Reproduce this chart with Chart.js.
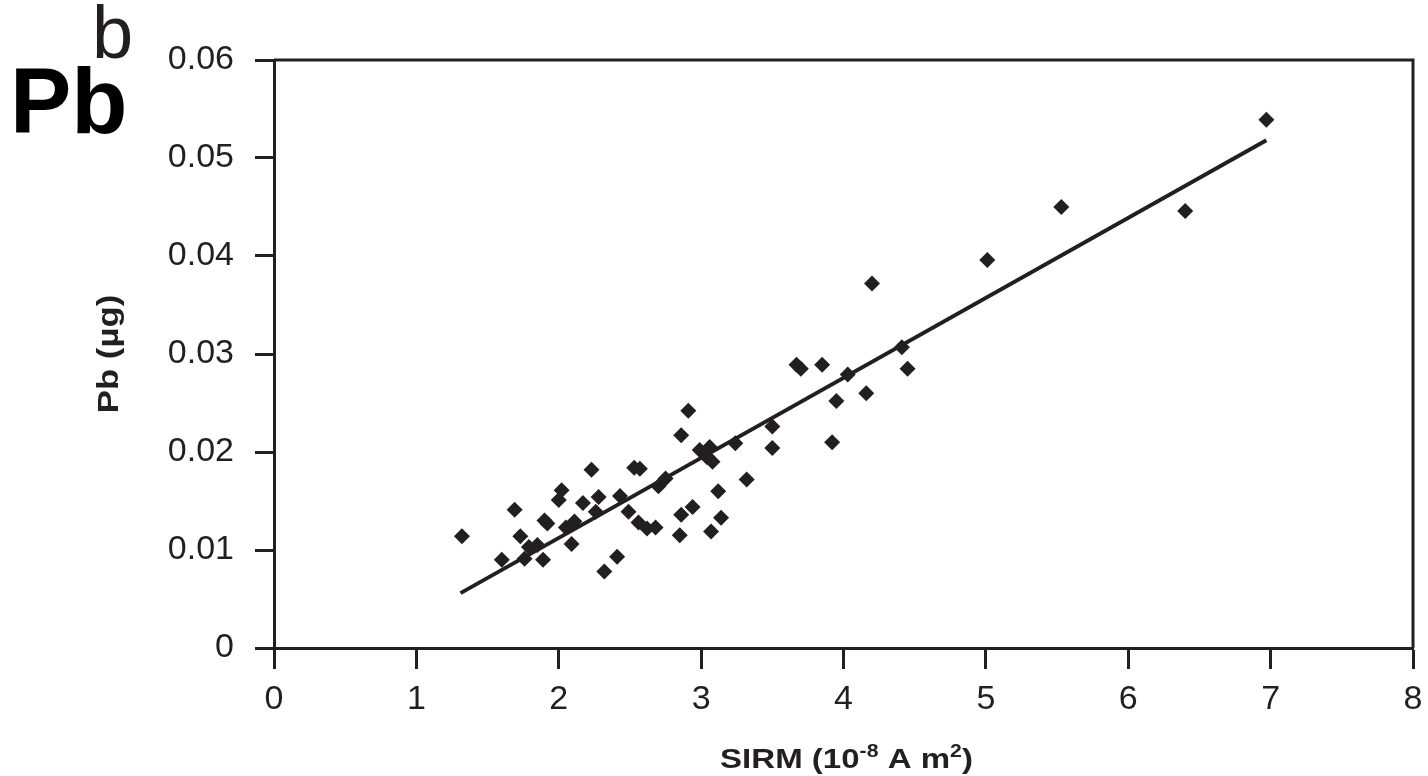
<!DOCTYPE html>
<html>
<head>
<meta charset="utf-8">
<title>Pb vs SIRM</title>
<script src="https://cdn.jsdelivr.net/npm/chart.js@4.4.1/dist/chart.umd.min.js"></script>
<style>
  html, body { margin: 0; padding: 0; background: #fff; }
  #wrap { position: relative; width: 1428px; height: 776px; overflow: hidden; }
  #chart { position: absolute; left: 0; top: 0; }
  .tag { position: absolute; font-family: "Liberation Sans", Arial, sans-serif; color: #000; line-height: 1; }
  #tagPb { left: 10px; top: 55px; font-size: 92px; font-weight: bold; }
  #tagB { left: 92px; top: -4px; font-size: 74px; color: #231f20; }
</style>
</head>
<body>
<div id="wrap">
  <canvas id="chart" width="1428" height="776"></canvas>
  <div class="tag" id="tagPb">Pb</div>
  <div class="tag" id="tagB">b</div>
</div>
<script>
'use strict';

// SIRM (10^-8 A m^2) and Pb (µg)
const sirm = [
    1.32, 1.60, 1.69, 1.73, 1.76, 1.79, 1.85, 1.90, 1.89, 1.92,
    2.02, 2.00, 2.05, 2.09, 2.11, 2.17, 2.23, 2.28, 2.26, 2.32,
    2.41, 2.43, 2.49, 2.53, 2.57, 2.56, 2.62, 2.68, 2.70, 2.75,
    2.85, 2.86, 2.86, 2.91, 2.94, 2.99, 3.04, 3.08, 3.06, 3.07,
    3.12, 3.14, 3.24, 3.32, 3.50, 3.50, 3.67, 3.70, 3.85, 4.03,
    3.95, 3.92, 4.16, 4.20, 4.41, 4.45, 5.01, 5.53, 6.40, 6.97,
];
const pb = [
    0.0114, 0.0090, 0.0141, 0.0114, 0.0091, 0.0103, 0.0105, 0.0130, 0.0090, 0.0127,
    0.0161, 0.0151, 0.0123, 0.0106, 0.0129, 0.0148, 0.0182, 0.0154, 0.0139, 0.0078,
    0.0093, 0.0155, 0.0139, 0.0184, 0.0183, 0.0128, 0.0122, 0.0123, 0.0165, 0.0173,
    0.0115, 0.0136, 0.0217, 0.0242, 0.0144, 0.0202, 0.0195, 0.0190, 0.0205, 0.0119,
    0.0160, 0.0133, 0.0209, 0.0172, 0.0226, 0.0204, 0.0289, 0.0285, 0.0289, 0.0279,
    0.0252, 0.0210, 0.0260, 0.0372, 0.0307, 0.0285, 0.0396, 0.0450, 0.0446, 0.0539,
];

// regression line end points
const fitX = [1.31, 6.97];
const fitY = [0.0056, 0.0518];

const xTicks = [0, 1, 2, 3, 4, 5, 6, 7, 8];
const yTickLabels = ['0', '0.01', '0.02', '0.03', '0.04', '0.05', '0.06'];

// axis titles as text runs (sup = superscript)
const xTitle = [
    { t: 'SIRM (10', sup: false },
    { t: '-8', sup: true },
    { t: ' A m', sup: false },
    { t: '2', sup: true },
    { t: ')', sup: false },
];
const yTitle = [{ t: 'Pb (\u00B5g)', sup: false }];

const INK  = '#231f20';
const FONT = '"Liberation Sans", Arial, sans-serif';

function drawRuns(ctx, runs, size, stretch) {
    const main = `bold ${size}px ${FONT}`;
    const sup  = `bold ${Math.round(size * 0.66)}px ${FONT}`;
    let w = 0;
    runs.forEach(r => { ctx.font = r.sup ? sup : main; r.w = ctx.measureText(r.t).width; w += r.w; });
    ctx.scale(stretch, 1);
    let x = -w / 2;
    runs.forEach(r => {
        ctx.font = r.sup ? sup : main;
        ctx.fillText(r.t, x, r.sup ? -size * 0.38 : 0);
        x += r.w;
    });
}

// frame top/right sides + axis titles
const decorPlugin = {
    id: 'decor',
    afterDraw(chart) {
        const { ctx, chartArea: a } = chart;
        ctx.save();
        ctx.strokeStyle = INK;
        ctx.lineWidth = 3;
        ctx.beginPath();
        ctx.moveTo(a.left, a.top);
        ctx.lineTo(a.right, a.top);
        ctx.lineTo(a.right, a.bottom);
        ctx.stroke();

        ctx.fillStyle = INK;
        ctx.textAlign = 'left';
        ctx.textBaseline = 'alphabetic';

        ctx.save();
        ctx.translate((a.left + a.right) / 2 + 3, 768);
        drawRuns(ctx, xTitle, 28, 1.18);
        ctx.restore();

        ctx.save();
        ctx.translate(118, (a.top + a.bottom) / 2);
        ctx.rotate(-Math.PI / 2);
        drawRuns(ctx, yTitle, 29, 1.2);
        ctx.restore();

        ctx.restore();
    },
};

new Chart(document.getElementById('chart').getContext('2d'), {
    type: 'scatter',
    data: {
        datasets: [
            {
                type: 'line',
                data: fitX.map((x, i) => ({ x, y: fitY[i] })),
                borderColor: INK,
                borderWidth: 4,
                pointRadius: 0,
                fill: false,
            },
            {
                data: sirm.map((x, i) => ({ x, y: pb[i] })),
                pointStyle: 'rectRot',
                pointRadius: 8,
                pointBorderWidth: 0,
                backgroundColor: INK,
                borderColor: INK,
            },
        ],
    },
    options: {
        responsive: false,
        animation: false,
        layout: { padding: { left: 0, top: 60, right: 15, bottom: 0 } },
        plugins: {
            legend:  { display: false },
            tooltip: { enabled: false },
        },
        scales: {
            x: {
                type: 'linear',
                min: 0,
                max: 8,
                afterFit: s => { s.height = 128; s.paddingRight = 0; s.paddingLeft = 0; },
                afterBuildTicks: s => { s.ticks = xTicks.map(v => ({ value: v })); },
                grid:   { drawOnChartArea: false, drawTicks: true, tickLength: 21, tickWidth: 3, tickColor: INK },
                border: { display: true, color: INK, width: 3 },
                ticks:  { color: INK, padding: 10, font: { family: FONT, size: 34 } },
            },
            y: {
                type: 'linear',
                min: 0,
                max: 0.06,
                afterFit: s => { s.width = 274; s.paddingTop = 0; s.paddingBottom = 0; },
                afterBuildTicks: s => { s.ticks = yTickLabels.map(t => ({ value: parseFloat(t) })); },
                grid:   { drawOnChartArea: false, drawTicks: true, tickLength: 19, tickWidth: 3, tickColor: INK },
                border: { display: true, color: INK, width: 3 },
                ticks:  {
                    color: INK,
                    padding: 21,
                    font: { family: FONT, size: 34 },
                    callback: (v, i) => yTickLabels[i],
                },
            },
        },
    },
    plugins: [decorPlugin],
});
</script>
</body>
</html>
